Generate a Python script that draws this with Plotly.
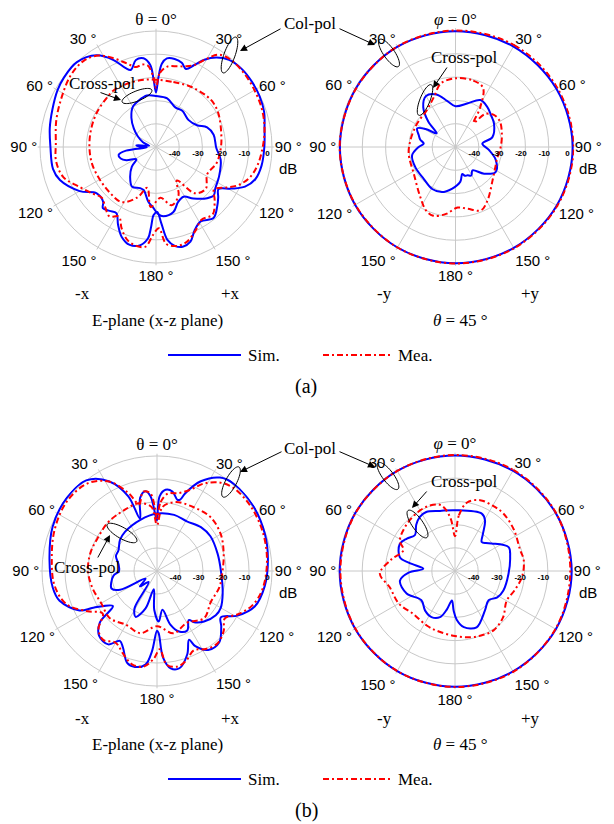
import numpy as np
import plotly.graph_objects as go

W, H = 614, 824

# ---------------- DATA (theta in deg, clockwise from top; values in dB) ----------------
# (a) E-plane (x-z plane)
a_e_sim_co_t = [0, 2, 4, 7, 12, 17, 21, 25, 29, 34, 40, 48, 56, 64, 72, 80, 90, 100, 108, 114, 119, 124,
                129, 134, 141, 149, 155, 160, 165, 169, 173, 176, 179, 182, 183.5, 185, 189, 195, 201, 206,
                211, 216, 221, 224, 232, 240, 251, 258, 270, 280, 290, 300, 307, 317, 327, 334, 339, 342,
                347, 352, 356, 358, 360]
a_e_sim_co_r = [-26.5, -20, -14, -11.5, -11.2, -12, -14, -11, -7, -3.5, -1, 0, 0, -0.3, -1, -2.5, -3.3, -3.8,
                -5, -8, -13, -17.5, -15.5, -13.3, -10.6, -12.6, -10.5, -6.6, -5.5, -6.5, -9.7, -17, -22,
                -20.7, -15.6, -10.5, -7.2, -6.3, -8.6, -12.7, -16.8, -16, -15.1, -17.2, -17.6, -12, -6.2,
                -4.6, -4.5, -3.5, -2.5, -1, -0.3, 0, -2.9, -8.3, -13.6, -15, -11.5, -11.4, -14.6, -21, -26.5]
a_e_sim_x_t = [0, 13, 26, 36, 50, 62, 69, 78, 91, 101, 115, 125, 130, 135, 144, 151, 158, 165, 174, 178,
               183, 188, 196, 201, 211, 221, 231, 238, 246, 252, 258, 263, 267, 271, 275, 280, 290, 300,
               310, 320, 330, 340, 350, 360]
a_e_sim_x_r = [-28, -28.5, -31, -30.7, -31.8, -30, -26.4, -24.6, -24, -21.6, -20, -18.8, -17.5, -18.8,
               -22.6, -25.5, -24.5, -21, -20, -21, -24, -26.2, -30.7, -31, -30, -33, -36.6, -40, -36,
               -34, -33.5, -37, -46, -43, -41.5, -47, -44, -41, -37.5, -33.5, -30, -28.6, -27.5, -28]
a_e_mea_co_t = [0, 3, 8, 15, 20, 25, 30, 34, 40, 50, 60, 70, 80, 90, 100, 108, 115, 120, 126, 132, 140,
                148, 155, 162, 168, 174, 178, 182, 186, 191, 197, 203, 208, 214, 220, 227, 234, 242, 252,
                262, 272, 285, 298, 310, 320, 328, 335, 341, 346, 350, 354, 358, 360]
a_e_mea_co_r = [-24.5, -18, -15, -14, -13, -11, -6, -2, -0.5, -0.5, -1, -1.5, -2.5, -4, -5.5, -7.5, -11,
                -15, -19, -16, -12, -13, -10, -7, -6.4, -8, -15, -12, -6.8, -6.5, -8, -12, -16, -14, -16,
                -18, -16, -13, -8, -6.5, -6.8, -5.5, -4, -2, -1.5, -3.5, -8, -12, -14.5, -14, -14.5, -20,
                -24.5]
a_e_mea_x_t = [0, 15, 30, 45, 53, 62, 75, 90, 105, 118, 130, 140, 148, 155, 165, 175, 185, 192, 200, 212,
               225, 240, 255, 270, 285, 300, 315, 324, 335, 348, 360]
a_e_mea_x_r = [-21, -21, -20, -19, -18.8, -19.5, -21, -22, -23, -25, -22, -24, -33, -27, -24, -28, -24,
               -32, -27, -22, -22, -22, -21.5, -21.3, -21, -20.5, -20, -19.5, -20, -20.5, -21]

# (a) theta = 45 deg cut
a_h_sim_co_t = [0, 30, 60, 90, 120, 150, 180, 210, 240, 270, 300, 330, 360]
a_h_sim_co_r = [-0.3, -0.2, 0, 0.3, 0.2, 0, -0.1, -0.2, -0.3, -0.4, -0.4, -0.3, -0.3]
a_h_mea_co_t = [0, 30, 60, 90, 120, 150, 180, 210, 240, 270, 300, 330, 360]
a_h_mea_co_r = [0, 0.5, 0.7, 0.8, 0.5, 0.2, 0, -0.2, -0.4, -0.3, -0.5, -0.2, 0]
a_h_sim_x_t = [0, 15, 28, 38, 48, 59, 75, 83, 95, 108, 122, 133, 144, 151, 157, 162, 166, 172, 185, 197,
               209, 225, 243, 259, 270, 276, 282, 288, 296, 301, 306, 313, 321, 330, 340, 350, 360]
a_h_sim_x_r = [-32.5, -30.7, -27.2, -28, -29.5, -30.7, -33.6, -38.4, -35.6, -31.8, -29.7, -33.2, -37.6,
               -36, -36.8, -37, -38.1, -35, -32, -29.8, -29.4, -30.7, -30.7, -31, -34.2, -36.3, -34.5,
               -33.4, -31.7, -35, -40, -34, -28, -24.7, -26, -30, -32.5]
a_h_mea_x_t = [0, 15, 25, 32, 37, 42, 50, 60, 75, 90, 105, 115, 132, 149, 158, 169, 178, 188, 198, 205,
               215, 237, 262, 280, 301, 322, 337, 347, 360]
a_h_mea_x_r = [-20.5, -20.5, -22, -30, -37, -31, -28.5, -28, -29.4, -30.6, -31.5, -31, -28.6, -23.3,
               -20.7, -23, -24, -21, -19, -20, -23.7, -28.7, -29.7, -30.5, -30.7, -30, -26.5, -22, -20.5]

# (b) E-plane (x-z plane)
b_e_sim_co_t = [0, 2, 6, 11, 16, 18, 20, 26, 34, 41, 56, 71, 84, 98, 110, 119, 126, 131, 139, 147, 153,
                155, 160, 167, 172, 176, 178.5, 180, 183.6, 187, 193, 198, 204, 208, 213.6, 221.7, 228,
                231.5, 240, 243, 253, 261, 276, 293, 309, 322, 332, 339, 342, 347, 351.6, 355, 359, 360]
b_e_sim_co_r = [-28, -17.5, -14.5, -14.8, -17.8, -17.4, -14, -6.6, -1, 0.5, 0.5, -0.4, -1.5, -2.7, -4.8,
                -10, -15.7, -13, -8.8, -9.1, -13.3, -17, -11.5, -6.6, -7.2, -12.2, -23, -24, -15, -9,
                -7.2, -8, -13.6, -15.6, -11.7, -12.2, -16.6, -25.5, -18, -12.2, -5.7, -4.1, -3, -0.7, 0.5,
                0, -5.9, -15.2, -26, -17.4, -15, -17.4, -27, -28]
b_e_sim_x_t = [0, 17, 31, 45, 57, 74, 90, 109, 120, 127, 137, 144, 147, 153, 160, 166, 172, 178, 184, 190,
               197, 205, 211, 217, 228, 236, 243, 249, 256, 264, 270, 280, 290, 298, 310, 321, 342, 360]
b_e_sim_x_r = [-25, -24.5, -24.8, -23, -22.3, -22.6, -22.2, -19.8, -18, -18, -20, -22.5, -24.6, -21, -22,
               -26, -33, -28, -33, -42, -33, -28, -31, -44, -40, -44, -32, -28.8, -29.5, -31, -33.5, -33,
               -31, -31, -29, -28, -26.6, -25]
b_e_mea_co_t = [0, 3, 8, 15, 22, 28, 35, 42, 55, 70, 85, 100, 110, 118, 125, 132, 140, 148, 155, 162, 168,
                174, 178, 182, 188, 195, 202, 210, 218, 225, 232, 240, 250, 262, 276, 292, 308, 322, 332,
                340, 345, 350, 355, 358, 360]
b_e_mea_co_r = [-27, -20, -16, -15, -12, -7, -3, -1, -0.5, -1, -2, -3.5, -6, -10, -14, -11, -9, -10, -12,
                -9, -7.5, -9, -16, -12, -8, -8, -11, -14, -12, -14, -20, -15, -8, -5, -4, -2, -0.5, -1.5,
                -6, -14, -20, -15, -16, -22, -27]
b_e_mea_x_t = [0, 5, 15, 30, 45, 60, 75, 90, 105, 120, 135, 150, 165, 180, 195, 210, 225, 240, 255, 270,
               285, 300, 315, 330, 345, 355, 360]
b_e_mea_x_r = [-30, -22, -19, -18, -17, -18, -20, -21.5, -22, -23, -21, -24, -22, -26, -22, -23, -21, -22,
               -21, -20, -20, -20.5, -20, -20, -19.5, -22, -30]

# (b) theta = 45 deg cut
b_h_sim_co_t = [0, 30, 60, 90, 120, 150, 180, 210, 240, 270, 300, 330, 360]
b_h_sim_co_r = [-0.2, -0.1, 0.1, 0.3, 0.2, 0, -0.1, -0.2, -0.3, -0.3, -0.3, -0.2, -0.2]
b_h_mea_co_t = [0, 30, 60, 90, 120, 150, 180, 210, 240, 270, 300, 330, 360]
b_h_mea_co_r = [0, 0.3, 0.2, -0.3, 0, 0.2, 0, -0.2, -0.4, -0.6, -0.4, -0.2, 0]
b_h_sim_x_t = [0, 25, 30.6, 37, 42.6, 48, 53, 66, 76, 93, 112, 122, 131, 143, 159, 171, 178, 182, 186,
               192, 198, 207, 217, 229, 245, 260, 268, 274, 280, 284, 296, 304, 312, 320, 327, 334, 346, 360]
b_h_sim_x_r = [-23.8, -22.7, -24.6, -30, -33, -32, -30.3, -24.7, -25.5, -26.9, -27.5, -28.5, -30.8, -28.6,
               -24, -25.5, -29, -33, -37.2, -33, -29.1, -27.7, -28.6, -30.8, -27, -25.9, -30, -36.3, -30,
               -25.5, -23.5, -25, -26.8, -24, -22.2, -21.7, -23.3, -23.8]
b_h_mea_x_t = [0, 4, 10, 19.5, 30, 40, 55, 72, 81, 95, 108, 120, 134, 147, 158, 167, 180, 195, 207, 224,
               240, 256, 268, 280, 292, 299, 318, 336, 348, 355, 360]
b_h_mea_x_r = [-35, -26, -20, -17.6, -17.5, -17.6, -19, -20.5, -20, -21, -23, -24.3, -21.2, -19.5, -20,
               -20.7, -22, -23, -23.5, -24.2, -22, -21, -17.6, -22, -26, -22.8, -20.7, -19.7, -21, -27, -35]

ang_vals = [0, 30, 60, 90, 120, 150, 180, 210, 240, 270, 300, 330]
ang_deg_text = ["30", "60", "90", "120", "150", "180", "150", "120", "90", "60", "30"]
r_vals = [-40, -30, -20, -10, 0]
r_text = ["-40", "-30", "-20", "-10", "0"]
RMIN, RMAX = -50, 1

BLUE = "#0000ff"
RED = "#ff0000"
SERIF = "Liberation Serif"
SANS = "Liberation Sans"
RED_DASH = "6px,3px,2px,3px"
NBSP = "\u00a0"

# panel geometry (pixel centre, radius of 0 dB circle)
panels = [
    ("polar", 156, 147, 116, "<span style='font-family:Liberation Serif;font-size:17px'>θ = 0°</span>"),
    ("polar2", 455.5, 147, 116.5, "<span style='font-family:Liberation Serif;font-size:17px'><i>φ</i> = 0°</span>"),
    ("polar3", 157, 571, 115, "<span style='font-family:Liberation Serif;font-size:17px'>θ = 0°</span>"),
    ("polar4", 455, 571, 116, "<span style='font-family:Liberation Serif;font-size:17px'><i>φ</i> = 0°</span>"),
]

series = [
    [(a_e_sim_co_t, a_e_sim_co_r, "sim"), (a_e_sim_x_t, a_e_sim_x_r, "sim"),
     (a_e_mea_co_t, a_e_mea_co_r, "mea"), (a_e_mea_x_t, a_e_mea_x_r, "mea")],
    [(a_h_sim_co_t, a_h_sim_co_r, "sim"), (a_h_sim_x_t, a_h_sim_x_r, "sim"),
     (a_h_mea_co_t, a_h_mea_co_r, "mea"), (a_h_mea_x_t, a_h_mea_x_r, "mea")],
    [(b_e_sim_co_t, b_e_sim_co_r, "sim"), (b_e_sim_x_t, b_e_sim_x_r, "sim"),
     (b_e_mea_co_t, b_e_mea_co_r, "mea"), (b_e_mea_x_t, b_e_mea_x_r, "mea")],
    [(b_h_sim_co_t, b_h_sim_co_r, "sim"), (b_h_sim_x_t, b_h_sim_x_r, "sim"),
     (b_h_mea_co_t, b_h_mea_co_r, "mea"), (b_h_mea_x_t, b_h_mea_x_r, "mea")],
]


def px(x):
    return x / W


def py(y):
    return 1 - y / H


fig = go.Figure()
layout_polars = {}
for (name, cx, cy, R, zero_lbl), ser in zip(panels, series):
    D = R * (RMAX - RMIN) / (0 - RMIN)
    layout_polars[name] = dict(
        domain=dict(x=[px(cx - D), px(cx + D)], y=[py(cy + D), py(cy - D)]),
        bgcolor="white",
        angularaxis=dict(rotation=90, direction="clockwise", tickmode="array", tickvals=ang_vals,
                         ticktext=[zero_lbl] + [t + " °" for t in ang_deg_text],
                         showline=False, gridcolor="#c8c8c8", gridwidth=1, ticks="",
                         tickfont=dict(size=15, family=SANS, color="black")),
        radialaxis=dict(range=[RMIN, RMAX], angle=0, tickangle=0, tickmode="array", tickvals=r_vals,
                        ticktext=["<b>" + t + "</b>" + NBSP * 4 for t in r_text], showline=False,
                        gridcolor="#c8c8c8", gridwidth=1, ticks="",
                        tickfont=dict(size=8, family=SANS, color="black")),
    )
    for t, r, kind in ser:
        if kind == "sim":
            ln = dict(color=BLUE, width=2, shape="spline", smoothing=1)
        else:
            ln = dict(color=RED, width=2, dash=RED_DASH, shape="spline", smoothing=1)
        fig.add_trace(go.Scatterpolar(theta=t, r=r, mode="lines", line=ln, subplot=name,
                                      showlegend=False, hoverinfo="skip"))

annotations = []
shapes = []


def text(x, y, s, size=17, family=SERIF, xanchor="center"):
    annotations.append(dict(x=px(x), y=py(y), xref="paper", yref="paper", text=s, showarrow=False,
                            font=dict(size=size, family=family, color="black"),
                            xanchor=xanchor, yanchor="middle"))


def arrow(hx, hy, tx, ty):
    annotations.append(dict(x=px(hx), y=py(hy), xref="paper", yref="paper", text="", showarrow=True,
                            ax=tx - hx, ay=ty - hy, arrowhead=2, arrowsize=1.4, arrowwidth=1,
                            arrowcolor="black", standoff=0))


def ellipse(cx, cy, a, b, ang):
    t = np.linspace(0, 2 * np.pi, 49)
    ph = np.radians(ang)
    xs = cx + a * np.cos(t) * np.cos(ph) - b * np.sin(t) * np.sin(ph)
    ys = cy + a * np.cos(t) * np.sin(ph) + b * np.sin(t) * np.cos(ph)
    path = "M " + " L ".join(f"{px(x):.5f},{py(y):.5f}" for x, y in zip(xs, ys)) + " Z"
    shapes.append(dict(type="path", path=path, xref="paper", yref="paper",
                       line=dict(color="black", width=1)))


for dy, lab in [(0, "(a)"), (424, "(b)")]:
    text(82, 294 + dy, "-x")
    text(230, 294 + dy, "+x")
    text(157, 320 + dy, "E-plane (x-z plane)")
    text(385, 294 + dy, "-y")
    text(530, 294 + dy, "+y")
    text(460, 320 + dy, "<i>θ</i> = 45 °")
    text(288, 168 + dy, "dB", size=15, family=SANS)
    text(588, 168 + dy, "dB", size=15, family=SANS)
    # legend
    shapes.append(dict(type="line", xref="paper", yref="paper", x0=px(168), x1=px(241),
                       y0=py(355 + dy), y1=py(355 + dy), line=dict(color=BLUE, width=2)))
    text(246, 355 + dy, "Sim.", xanchor="left")
    shapes.append(dict(type="line", xref="paper", yref="paper", x0=px(323), x1=px(391),
                       y0=py(355 + dy), y1=py(355 + dy), line=dict(color=RED, width=2, dash=RED_DASH)))
    text(396, 355 + dy, "Mea.", xanchor="left")
    text(306, 386 + dy, lab, size=20)

# (a) annotations
text(310, 24, "Col-pol")
arrow(240, 51, 282, 28)
arrow(375, 45, 338, 28)
ellipse(229.5, 55, 19, 5.5, 110)
ellipse(389, 53, 16.5, 5.5, 55)
text(102, 83, "Cross-pol")
arrow(121, 100, 99, 92)
ellipse(137, 96, 16, 5, -22)
text(464, 58, "Cross-pol")
arrow(433, 88, 448, 66)
ellipse(425, 100, 16.5, 5, -68)

# (b) annotations
text(310, 448, "Col-pol")
arrow(240, 472, 283, 451)
arrow(375, 467, 338, 451)
ellipse(231, 482, 17, 5.5, 118)
ellipse(388, 476, 16.5, 5.5, 53)
text(87, 567, "Cross-pol")
arrow(110, 535, 97, 559)
ellipse(122, 533, 17, 5.5, 30)
text(464, 482, "Cross-pol")
arrow(412, 508, 428, 490)
ellipse(417.5, 524, 16.5, 5.5, 55)

fig.update_layout(width=W, height=H, margin=dict(l=0, r=0, t=0, b=0), paper_bgcolor="white",
                  plot_bgcolor="white", showlegend=False, annotations=annotations, shapes=shapes,
                  **layout_polars)

fig.write_html("out.html")
